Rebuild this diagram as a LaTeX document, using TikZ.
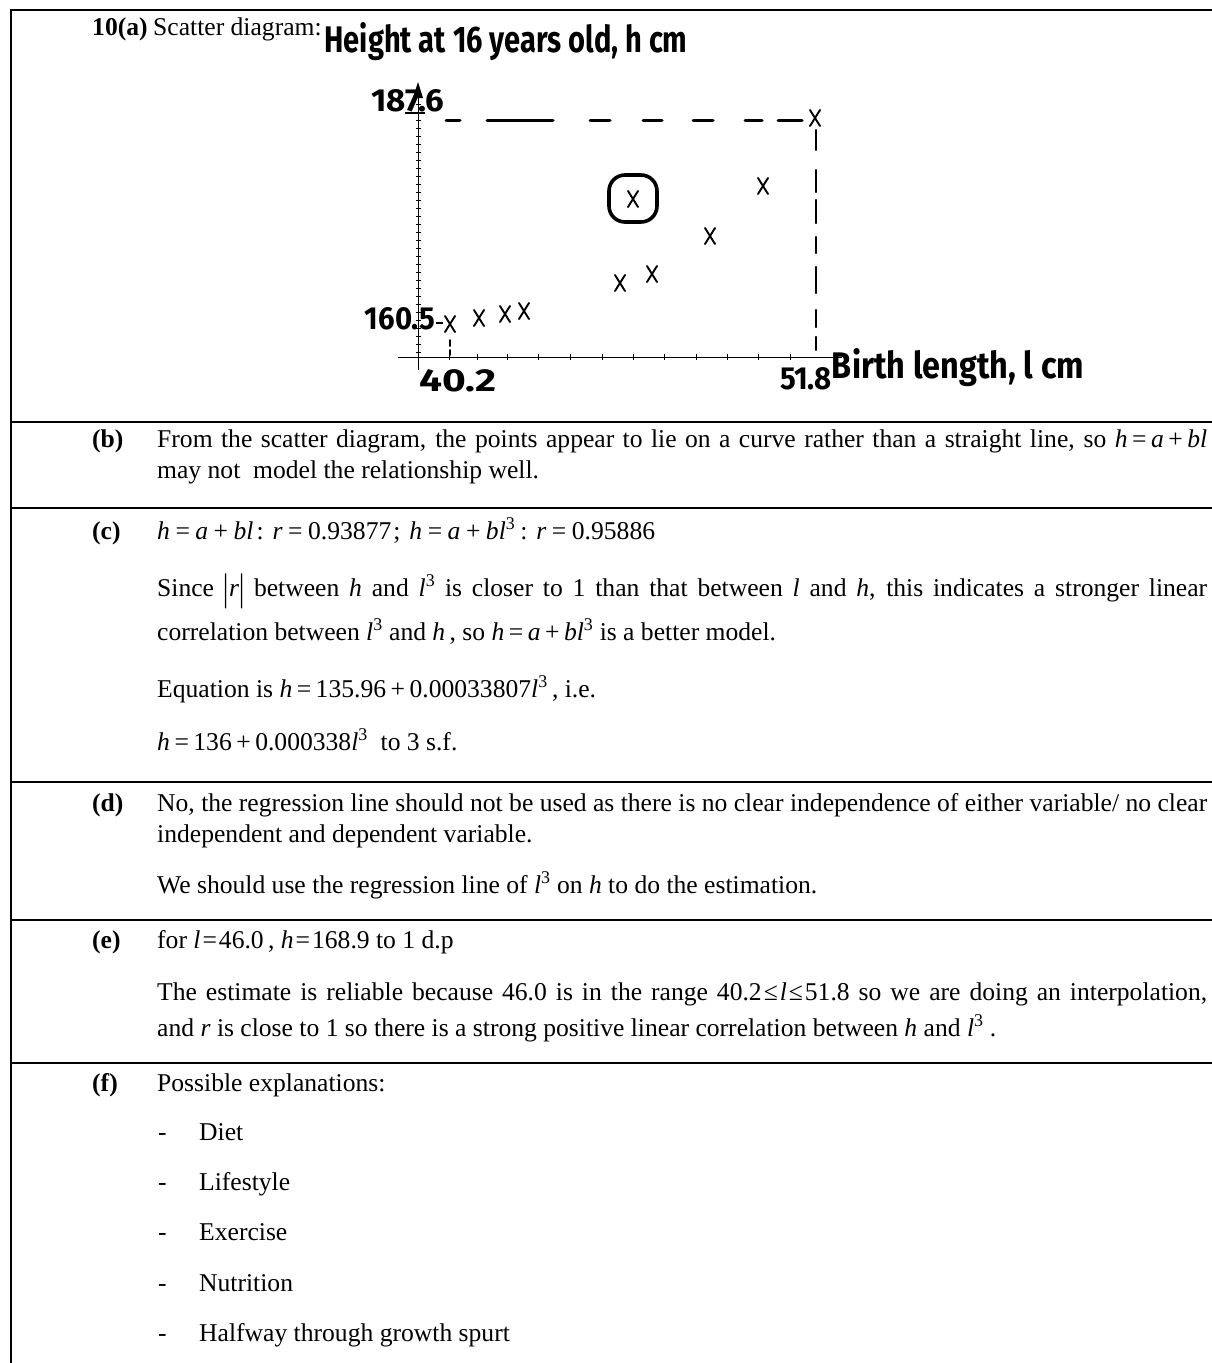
\documentclass[tikz,border=0pt]{standalone}
\usepackage{fontspec}
\setmainfont{Liberation Serif}
\newfontfamily\hand{Fira Sans}
\newcommand\mv[1]{\textit{#1}}
\newcommand\cb{\textsuperscript{3}}
\newcommand\eqs{\kern4.5pt=\kern4.5pt}
\newcommand\pls{\kern4.5pt+\kern4.5pt}
\newcommand\eqw{\kern5.5pt=\kern5.5pt}
\newcommand\plw{\kern5.5pt+\kern5.5pt}
\newcommand\jl[1]{\makebox[1050pt][s]{#1}}
\begin{document}
\begin{tikzpicture}[x=1pt,y=-1pt,
  txt/.style={anchor=base west,inner sep=0pt,font=\fontsize{25.6}{30}\selectfont},
  lab/.style={anchor=base west,inner sep=0pt,font=\fontsize{25.6}{30}\selectfont\bfseries},
  rulel/.style={line width=1.4pt},
  hw/.style={inner sep=0pt,font=\hand\bfseries},
  cross/.style={line width=1.9pt,line cap=round},
  thickdash/.style={line width=3pt,line cap=round},
  axisl/.style={line width=1pt}]
\useasboundingbox (0,0) rectangle (1212,1363);
% table rules
\draw[rulel] (11,1363) -- (11,10) -- (1212,10);
\foreach \yy in {422,508,782,920,1063} \draw[rulel] (11,\yy) -- (1212,\yy);

% ---------- (a) ----------
\node[lab] (la) at (92,35) {10(a)};
\node[txt] (ta) at (153,35) {Scatter diagram:};

% scatter: axes
\draw[axisl] (418,97) -- (418,370);
\foreach \t in {104,112,...,352} \draw[line width=0.8pt] (415.5,\t) -- (420.5,\t);
\fill (418,82) -- (413,98) -- (423,98) -- cycle;
\draw[axisl] (398,357) -- (842,357);
\foreach \t in {449,477,507,538,570,602,633,664,696,727,758,790}
  \draw[line width=1pt] (\t,354) -- (\t,360);
% dashed guide lines
\foreach \a/\b in {446/460,487/553,590/610,643/662,693/713,745/762,778/802}
  \draw[thickdash] (\a,120) -- (\b,120);
\foreach \a/\b in {130/150,170/192,200/223,237/253,267/293,310/327,337/350}
  \draw[line width=2.2pt,line cap=round] (816,\a) -- (816,\b);
\draw[line width=2pt] (405,113) -- (425,113);
\draw[line width=2pt] (436,323) -- (443,323);
\draw[line width=2pt,line cap=round] (450,340) -- (450,346) (450,350) -- (450,355);
% points
\foreach \p/\q in {815/118,763/186,710/236,652/274,620/283,524/311,505/314,479/318,450/324,633/199}
  \draw[cross] (\p-5,\q-8) -- (\p+5,\q+8) (\p+5,\q-8) -- (\p-5,\q+8);
\draw[line width=3.6pt,rounded corners=16pt] (609,175) rectangle (657,222);
% handwritten labels
\node[hw] (hd) at (506,42) {\resizebox{363pt}{30pt}{Height at 16 years old, h cm}};
\node[hw] (y1) at (408,101) {\resizebox{73pt}{22pt}{187.6}};
\node[hw] (y2) at (400,319) {\resizebox{70pt}{22pt}{160.5}};
\node[hw] (x1) at (458,381) {\resizebox{77pt}{22pt}{40.2}};
\node[hw] (x2) at (806,379) {\resizebox{52pt}{22pt}{51.8}};
\node[hw] (xn) at (958,368) {\resizebox{252pt}{30pt}{Birth length, l cm}};

% ---------- (b) ----------
\node[lab] (lb) at (92,447) {(b)};
\node[txt] (b1) at (157,447) {\jl{From the scatter diagram, the points appear to lie on a curve rather than a straight line, so \mv{h}\eqs\mv{a}\pls\mv{bl}}};
\node[txt] (b2) at (157,478) {may not\ \ model the relationship well.};

% ---------- (c) ----------
\node[lab] (lc) at (92,539) {(c)};
\node[txt] (c1) at (157,539) {\mv{h}\eqw\mv{a}\plw\mv{bl}\kern3pt:\kern9pt\mv{r}\eqw0.93877\kern2pt;\kern9pt\mv{h}\eqw\mv{a}\plw\mv{bl}\cb\kern5pt:\kern9pt\mv{r}\eqw0.95886};
\node[txt] (c2) at (157,596) {\jl{Since \raisebox{-4pt}{\scalebox{1}[1.5]{|}}\mv{r}\raisebox{-4pt}{\scalebox{1}[1.5]{|}} between \mv{h} and \mv{l}\cb\ is closer to 1 than that between \mv{l} and \mv{h}, this indicates a stronger linear}};
\node[txt] (c3) at (157,640) {correlation between \mv{l}\cb\ and \mv{h}\,, so \mv{h}\eqs\mv{a}\pls\mv{bl}\cb\ is a better model.};
\node[txt] (c4) at (157,697) {Equation is \mv{h}\eqs135.96\pls0.00033807\mv{l}\cb\,, i.e.};
\node[txt] (c5) at (157,750) {\mv{h}\eqs136\pls0.000338\mv{l}\cb\ \ to 3 s.f.};

% ---------- (d) ----------
\node[lab] (ld) at (92,811) {(d)};
\node[txt] (d1) at (157,811) {\jl{No, the regression line should not be used as there is no clear independence of either variable/ no clear}};
\node[txt] (d2) at (157,842) {independent and dependent variable.};
\node[txt] (d3) at (157,893) {We should use the regression line of \mv{l}\cb\ on \mv{h} to do the estimation.};

% ---------- (e) ----------
\node[lab] (le) at (92,948) {(e)};
\node[txt] (e1) at (157,948) {for \mv{l}\kern2pt=\kern2pt46.0\,, \mv{h}\kern2pt=\kern2pt168.9\ to 1 d.p};
\node[txt] (e2) at (157,1000) {\jl{The estimate is reliable because 46.0 is in the range 40.2\kern2pt≤\kern2pt\mv{l}\kern2pt≤\kern2pt51.8 so we are doing an interpolation,}};
\node[txt] (e3) at (157,1036) {and \mv{r} is close to 1 so there is a strong positive linear correlation between \mv{h} and \mv{l}\cb\ .};

% ---------- (f) ----------
\node[lab] (lf) at (92,1091) {(f)};
\node[txt] (f0) at (157,1091) {Possible explanations:};
\foreach \yy/\it [count=\i] in {1140/Diet,1190/Lifestyle,1240/Exercise,1291/Nutrition,1341/Halfway through growth spurt}{
  \node[txt] (fd\i) at (158,\yy) {-};
  \node[txt] (fi\i) at (199,\yy) {\it};
}
\end{tikzpicture}
\end{document}
